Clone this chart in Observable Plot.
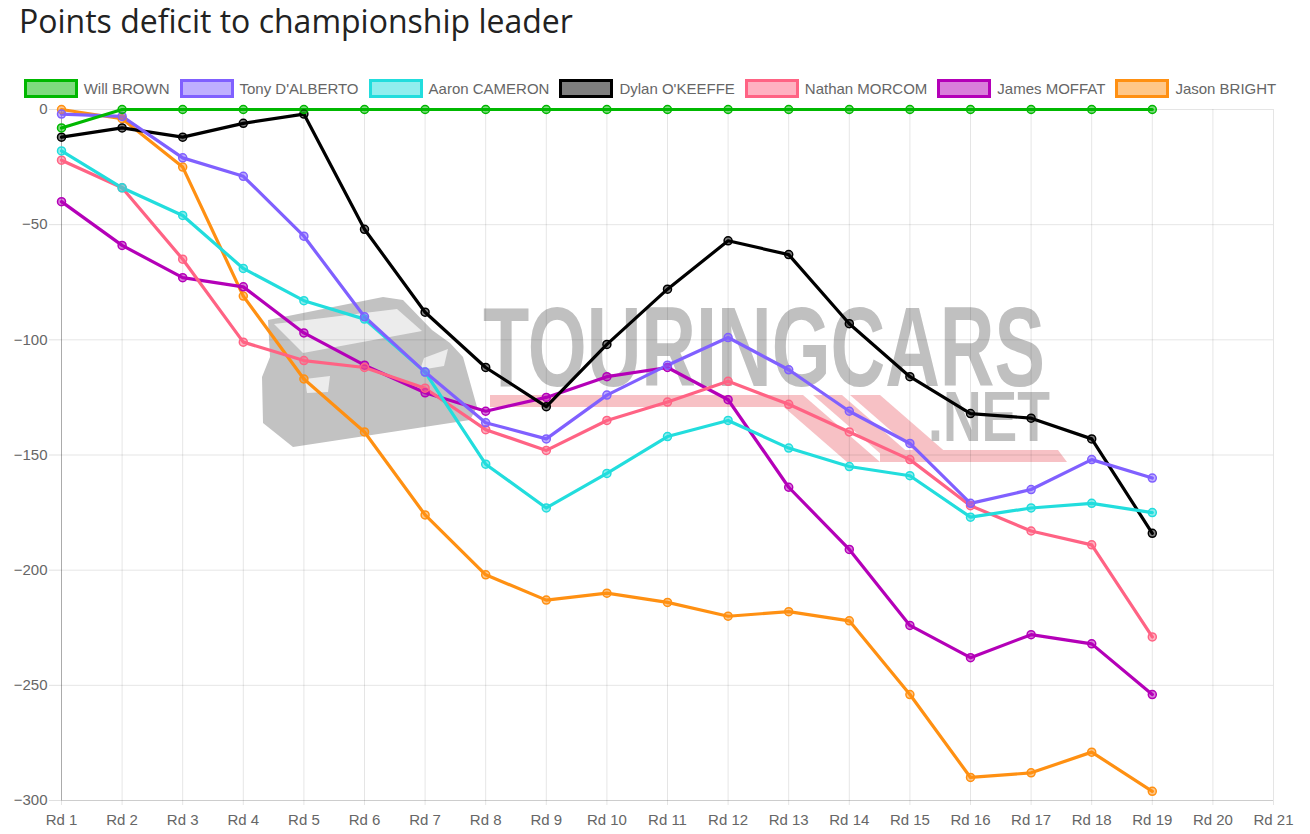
<!DOCTYPE html>
<html>
<head>
<meta charset="utf-8">
<script src="https://cdn.jsdelivr.net/npm/d3@7"></script>
<script src="https://cdn.jsdelivr.net/npm/@observablehq/plot@0.6"></script>
<style>
  html, body { margin: 0; padding: 0; background: #fff; }
  #page { position: relative; width: 1310px; height: 834px; overflow: hidden; }
  #title { position: absolute; left: 19px; top: 0px; font-family: "Open Sans", sans-serif; font-size: 32px; color: #222; line-height: 42px; white-space: nowrap; }
  #legend { position: absolute; top: 79px; left: 0; width: 1310px; height: 19px; display: flex; justify-content: center; align-items: center; font-family: "Liberation Sans", Arial, sans-serif; font-size: 15px; color: #666; }
  .item { display: flex; align-items: center; margin-right: 10px; white-space: nowrap; }
  .box { box-sizing: border-box; width: 54px; height: 19px; border-width: 3px; border-style: solid; margin-right: 6px; }
  #wm { position: absolute; left: 0; top: 0; }
  .wmtext { position: absolute; font-family: "Liberation Sans", Arial, sans-serif; font-weight: bold; color: #c0c0c0; white-space: nowrap; transform-origin: left top; }
  #chart { position: absolute; top: 100px; left: 0; }
</style>
</head>
<body>
<div id="page">
  <svg id="wm" width="1310" height="834" xmlns="http://www.w3.org/2000/svg">
    <g fill="#f7c1c5">
      <polygon points="490,395 800,395 803,407 490,407"/>
      <polygon points="770,395 803,395 880,462 847,462"/>
      <polygon points="813,395 842,395 919,462 890,462"/>
      <polygon points="850,395 880,395 957,462 927,462"/>
      <polygon points="880,450 1058,450 1067,462 880,462"/>
    </g>
    <g>
      <polygon fill="#c2c2c2" points="268,320 383,297 403,300 432,330 450,343 463,357 477,407 470,420 293,447 263,423 262,377 270,357"/>
      <polygon fill="#ececec" points="274,324 397,309 422,331 303,353"/>
      <polygon fill="#ececec" points="424,358 448,349 444,366 420,370"/>
      <polygon fill="#ececec" points="305,379 330,376 328,392 307,393"/>
    </g>
  </svg>
  <div class="wmtext" id="wm1" style="left:483px;top:304px;font-size:113px;line-height:86px;" data-w="562">TOURINGCARS</div>
  <div class="wmtext" id="wm2" style="left:928px;top:391px;font-size:70px;line-height:52px;" data-w="122">.NET</div>
  <div id="title">Points deficit to championship leader</div>
  <div id="legend"></div>
  <div id="chart"></div>
</div>
<script>
// fit watermark words to their widths
document.querySelectorAll(".wmtext").forEach(el => {
  const w = el.getBoundingClientRect().width;
  el.style.transform = `scaleX(${(+el.dataset.w) / w})`;
});

const rounds = ["Rd 1","Rd 2","Rd 3","Rd 4","Rd 5","Rd 6","Rd 7","Rd 8","Rd 9","Rd 10","Rd 11","Rd 12","Rd 13","Rd 14","Rd 15","Rd 16","Rd 17","Rd 18","Rd 19","Rd 20","Rd 21"];
const drivers = ["Will BROWN","Tony D'ALBERTO","Aaron CAMERON","Dylan O'KEEFFE","Nathan MORCOM","James MOFFAT","Jason BRIGHT"];
const driverColors = ["#00b800","#8060ff","#22dddd","#000000","#ff6384","#b400b8","#ff9012"];
const yTicks = [0,-50,-100,-150,-200,-250,-300];

const willBrown    = [-8, 0, 0, 0, 0, 0, 0, 0, 0, 0, 0, 0, 0, 0, 0, 0, 0, 0, 0];
const tonyDalberto = [-2, -3, -21, -29, -55, -90, -114, -136, -143, -124, -111, -99, -113, -131, -145, -171, -165, -152, -160];
const aaronCameron = [-18, -34, -46, -69, -83, -91, -114, -154, -173, -158, -142, -135, -147, -155, -159, -177, -173, -171, -175];
const dylanOkeeffe = [-12, -8, -12, -6, -2, -52, -88, -112, -129, -102, -78, -57, -63, -93, -116, -132, -134, -143, -184];
const nathanMorcom = [-22, -34, -65, -101, -109, -112, -121, -139, -148, -135, -127, -118, -128, -140, -152, -172, -183, -189, -229];
const jamesMoffat  = [-40, -59, -73, -77, -97, -111, -123, -131, -125, -116, -112, -126, -164, -191, -224, -238, -228, -232, -254];
const jasonBright  = [0, -4, -25, -81, -117, -140, -176, -202, -213, -210, -214, -220, -218, -222, -254, -290, -288, -279, -296];

const seriesValues = [willBrown, tonyDalberto, aaronCameron, dylanOkeeffe, nathanMorcom, jamesMoffat, jasonBright];

// legend
const legend = document.getElementById("legend");
drivers.forEach((d, i) => {
  const item = document.createElement("div");
  item.className = "item";
  const box = document.createElement("div");
  box.className = "box";
  box.style.borderColor = driverColors[i];
  const c = d3.color(driverColors[i]); c.opacity = 0.5;
  box.style.background = c.formatRgb();
  const lab = document.createElement("span");
  lab.textContent = d;
  item.appendChild(box); item.appendChild(lab);
  legend.appendChild(item);
});

// data rows, drawn in reverse order so the first series is on top
const rows = [];
for (let s = drivers.length - 1; s >= 0; s--) {
  seriesValues[s].forEach((v, i) => rows.push({driver: drivers[s], round: rounds[i], value: v}));
}

const font = "'Liberation Sans', Arial, sans-serif";

const chart = Plot.plot({
  width: 1310,
  height: 734,
  marginTop: 9,
  marginBottom: 34,
  marginLeft: 61,
  marginRight: 37,
  style: {fontFamily: font, fontSize: "15px", color: "#666", background: "transparent", overflow: "visible"},
  x: {type: "point", domain: rounds, padding: 0, round: false, label: null},
  y: {domain: [-300, 0], label: null},
  color: {domain: drivers, range: driverColors},
  marks: [
    Plot.gridX(rounds, {stroke: "#000", strokeOpacity: 0.1, y1: -300, y2: 0}),
    Plot.gridY(yTicks, {stroke: "#000", strokeOpacity: 0.1}),
    Plot.axisY(yTicks, {tickSize: 12, tickPadding: 2, stroke: "#000", strokeOpacity: 0.12, fill: "#666", fontSize: 15, label: null}),
    Plot.axisX(rounds, {tickSize: 5, tickPadding: 9, stroke: "#000", strokeOpacity: 0.1, fill: "#666", fontSize: 15, label: null}),
    Plot.ruleX([rounds[0]], {stroke: "#000", strokeOpacity: 0.25}),
    Plot.ruleY([-300], {stroke: "#000", strokeOpacity: 0.1}),
    Plot.line(rows, {x: "round", y: "value", z: "driver", stroke: "driver", strokeWidth: 3.2, strokeLinejoin: "round"}),
    Plot.dot(rows, {x: "round", y: "value", stroke: "driver", fill: "driver", fillOpacity: 0.5, r: 4, strokeWidth: 1.5})
  ]
});
document.getElementById("chart").appendChild(chart);
</script>
</body>
</html>
